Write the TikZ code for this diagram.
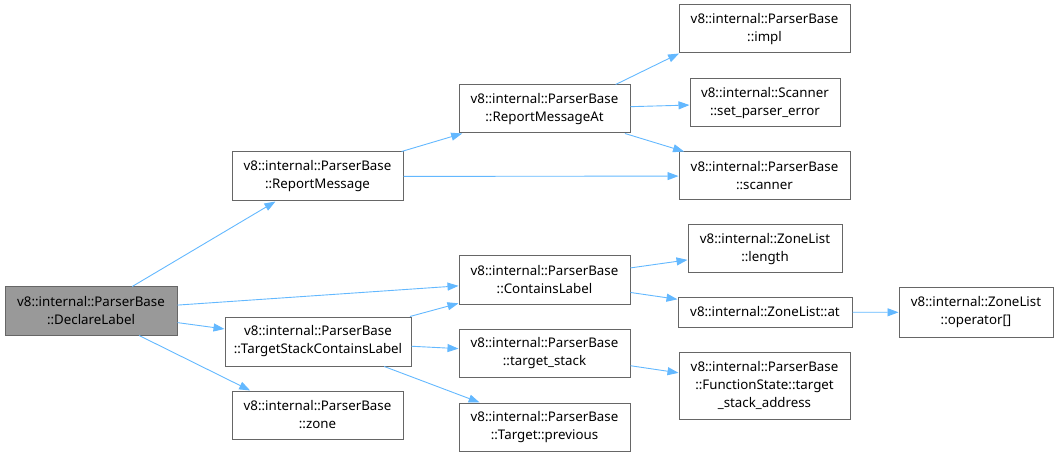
\documentclass[tikz,border=0pt]{standalone}
\usepackage{fontspec}
\setmainfont{Noto Sans}
\usepackage{xcolor}
\usepackage{tikz}
\usetikzlibrary{arrows.meta}
\definecolor{DoxEdge}{RGB}{99, 184, 255}
\definecolor{DoxBorder}{RGB}{102, 102, 102}
\definecolor{DoxFill}{RGB}{153, 153, 153}

\tikzset{
  fnbox/.style={draw=DoxBorder, line width=1pt, fill=white, inner sep=0pt, align=center,
    minimum width=171pt, minimum height=48pt, font=\fontsize{13.3}{18}\selectfont},
  callarrow/.style={draw=DoxEdge, line width=0.9pt, -{Stealth[length=11pt, width=8pt, inset=0pt]}}
}

\begin{document}
\begin{tikzpicture}[x=1pt, y=-1pt]
    \useasboundingbox (0,0) rectangle (1058,457);
    % left column
    \node[fnbox, fill=DoxFill, minimum width=172pt] (declare) at (91,311) {v8::internal::ParserBase\\::DeclareLabel};
    % second column
    \node[fnbox, minimum height=49pt] (report) at (317.5,176.5) {v8::internal::ParserBase\\::ReportMessage};
    \node[fnbox, minimum width=186pt, minimum height=49pt] (tscl) at (318,341.5) {v8::internal::ParserBase\\::TargetStackContainsLabel};
    \node[fnbox] (zone) at (317.5,415) {v8::internal::ParserBase\\::zone};
    % third column
    \node[fnbox] (reportat) at (544.5,109) {v8::internal::ParserBase\\::ReportMessageAt};
    \node[fnbox] (contains) at (544.5,280) {v8::internal::ParserBase\\::ContainsLabel};
    \node[fnbox] (tstack) at (544.5,353) {v8::internal::ParserBase\\::target\_stack};
    \node[fnbox] (previous) at (544.5,427) {v8::internal::ParserBase\\::Target::previous};
    % fourth column
    \node[fnbox] (impl) at (764.5,29) {v8::internal::ParserBase\\::impl};
    \node[fnbox, minimum width=150pt] (setperr) at (765,103) {v8::internal::Scanner\\::set\_parser\_error};
    \node[fnbox] (scanner) at (764.5,176) {v8::internal::ParserBase\\::scanner};
    \node[fnbox, minimum width=154pt] (length) at (765,249) {v8::internal::ZoneList\\::length};
    \node[fnbox, minimum width=174pt, minimum height=30pt] (at) at (765,312) {v8::internal::ZoneList::at};
    \node[fnbox, minimum height=67pt] (fstate) at (764.5,385.5) {v8::internal::ParserBase\\::FunctionState::target\\\_stack\_address};
    % last column
    \node[fnbox, minimum width=154pt, minimum height=49pt] (operator) at (976,312.5) {v8::internal::ZoneList\\::operator[]};

    % calls
    \draw[callarrow] (declare) -- (report);
    \draw[callarrow] (declare) -- (contains);
    \draw[callarrow] (declare) -- (tscl);
    \draw[callarrow] (declare.-27) -- (zone.160);
    \draw[callarrow] (report) -- (reportat);
    \draw[callarrow] (report) -- (scanner);
    \draw[callarrow] (reportat.19) -- (impl.196);
    \draw[callarrow] (reportat) -- (setperr);
    \draw[callarrow] (reportat) -- (scanner);
    \draw[callarrow] (contains) -- (length);
    \draw[callarrow] (contains) -- (at);
    \draw[callarrow] (at) -- (operator);
    \draw[callarrow] (tscl) -- (contains);
    \draw[callarrow] (tscl) -- (tstack);
    \draw[callarrow] (tscl) -- (previous);
    \draw[callarrow] (tstack) -- (fstate);
\end{tikzpicture}
\end{document}
